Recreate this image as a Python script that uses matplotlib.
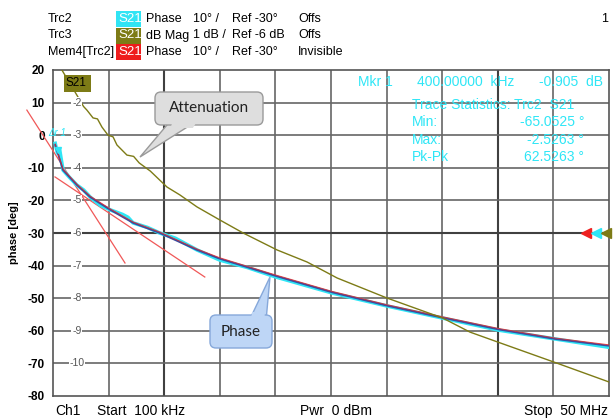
import matplotlib
matplotlib.use("Agg")
import matplotlib.pyplot as plt
from matplotlib.patches import FancyBboxPatch, Polygon, Rectangle
from matplotlib.transforms import IdentityTransform

W, H = 614, 418

# x values are grid divisions across the sweep (0 = 100 kHz, 10 = 50 MHz)
phase_x = [0.04, 0.18, 0.43, 0.67, 1.03, 1.44, 1.92, 2.59, 3.0, 4.01, 5.02, 6.01, 7.01, 8.02, 9.03, 10.0]
phase_deg = [-3.0, -10.7, -15.3, -19.0, -22.9, -26.9, -30.0, -35.2, -37.9, -43.2, -48.2, -52.3, -56.0, -59.6, -62.5, -64.6]

cyan_x = [0.04, 0.08, 0.12, 0.18, 0.3, 0.43, 0.55, 0.67, 0.85, 1.03, 1.25, 1.35, 1.44, 1.7, 1.92,
          2.2, 2.59, 3.0, 3.5, 4.01, 5.02, 6.01, 7.01, 8.02, 9.03, 10.0]
cyan_deg = [-2.5, -5.5, -4.5, -10.7, -13.0, -15.3, -16.8, -19.0, -21.5, -22.9, -24.3, -25.2, -26.9, -28.3, -30.0,
            -31.6, -35.2, -38.3, -40.6, -43.5, -48.4, -52.4, -56.1, -59.8, -62.5, -65.05]

mag_x = [0.16, 0.45, 0.55, 0.61, 0.72, 0.8, 0.88, 0.99, 1.08, 1.15, 1.33, 1.45, 1.55, 1.75, 2.05,
         2.28, 2.59, 3.0, 3.42, 4.03, 4.57, 5.11, 6.0, 7.01, 7.5, 8.04, 9.06, 10.0]
mag_db = [-1.0, -1.83, -2.12, -2.23, -2.47, -2.5, -2.75, -3.0, -3.05, -3.3, -3.61, -3.65, -3.85, -4.1, -4.59,
          -4.83, -5.2, -5.6, -6.0, -6.52, -6.89, -7.38, -7.99, -8.61, -9.04, -9.37, -9.99, -10.57]

tan1_x = [-0.47, 1.295]
tan1_deg = [7.7, -39.2]
tan2_x = [0.036, 2.73]
tan2_deg = [-12.8, -43.5]

deg_ticks = list(range(20, -90, -10))
db_ticks = list(range(-2, -11, -1))

header = [
    ("Trc2", "#30e4f4", "Phase", "10° /", "Ref -30°", "Offs"),
    ("Trc3", "#7d7b16", "dB Mag", "1 dB /", "Ref -6 dB", "Offs"),
    ("Mem4[Trc2]", "#ee1c1c", "Phase", "10° /", "Ref -30°", "Invisible"),
]
stats = [("Min:", "-65.0525 °"), ("Max:", "-2.5263 °"), ("Pk-Pk", "62.5263 °")]

CYAN = "#2ee6f6"
OLIVE = "#7d7b16"
RED = "#ee2020"
BLUE = "#3d4c9e"

plt.rcParams["font.family"] = ["Liberation Sans", "DejaVu Sans"]

fig = plt.figure(figsize=(W / 100, H / 100), dpi=100)
fig.patch.set_facecolor("white")
ax = fig.add_axes([53 / W, 1 - 396 / H, 556 / W, 326 / H])
ax.set_xlim(0, 10)
ax.set_ylim(-80, 20)
ax.set_yticks(deg_ticks)
ax.set_yticklabels([str(t) for t in deg_ticks], fontweight="bold", fontsize=8.5)
ax.set_xticks([])
ax.tick_params(axis="y", length=0, pad=6)
ax.set_ylabel("phase [deg]", fontweight="bold", fontsize=8, labelpad=6)
for s in ax.spines.values():
    s.set_color("#555555")
    s.set_linewidth(1.2)

# grid
for i in range(1, 10):
    dark = i in (2, 8)
    ax.axvline(i, color="#404040" if dark else "#666666", lw=1.5 if dark else 1.2, zorder=1)
for t in deg_ticks[1:-1]:
    dark = t == -30
    ax.axhline(t, color="#404040" if dark else "#666666", lw=1.5 if dark else 1.2, zorder=1)

# tangents
ax.plot(tan1_x, tan1_deg, color="#f05858", lw=0.9, zorder=3, clip_on=False)
ax.plot(tan2_x, tan2_deg, color="#f05858", lw=0.9, zorder=3)

# phase traces
ax.plot(cyan_x, cyan_deg, color=CYAN, lw=2.6, zorder=4)
ax.plot(phase_x, phase_deg, color=BLUE, lw=1.3, zorder=5)
ax.plot(phase_x, [d + 0.3 for d in phase_deg], color=RED, lw=0.7, alpha=0.8, zorder=6)

# magnitude trace on dB scale
ax2 = ax.twinx()
ax2.set_ylim(-11, -1)
ax2.set_yticks([])
for s in ax2.spines.values():
    s.set_visible(False)
ax2.plot(mag_x, mag_db, color=OLIVE, lw=1.0, zorder=4)
for d in db_ticks:
    ax2.text(0.43, d, str(d), ha="center", va="center", fontsize=7.5, color="#555555",
             bbox=dict(facecolor="white", edgecolor="none", pad=0.6), zorder=7)

# marker glyphs
ax.plot([0.09], [-4.5], marker="v", color=CYAN, ms=5, zorder=7)
ax.text(-0.08, 0.6, "Δr 1", color=CYAN, fontsize=7, style="italic", va="center", ha="left",
        zorder=7, clip_on=False)
for xa, c in zip([0.958, 0.976, 0.994], [RED, CYAN, OLIVE]):
    ax.plot([xa], [0.5], marker="<", ms=6.5, color=c, transform=ax.transAxes,
            clip_on=False, zorder=8)

idt = IdentityTransform()


def px_text(x, y, s, **kw):
    fig.text(x / W, 1 - y / H, s, va="center", **kw)


def px_rect(x0, y0, x1, y1, color):
    fig.add_artist(Rectangle((x0, H - y1), x1 - x0, y1 - y0, transform=idt,
                             facecolor=color, edgecolor="none"))


# header lines
for row, (name, col, kind, scale, ref, state) in enumerate(header):
    y = 19 + row * 16.5
    px_text(48, y, name, fontsize=9)
    px_rect(116, y - 8, 141, y + 8, col)
    px_text(118, y, "S21", fontsize=9.5, color="white")
    px_text(146, y, kind, fontsize=9)
    px_text(193, y, scale, fontsize=9)
    px_text(232, y, ref, fontsize=9)
    px_text(298, y, state, fontsize=9)
px_text(608, 19, "1", fontsize=9, ha="right")

# olive S21 label on trace
px_rect(64, 75, 91, 92, OLIVE)
px_text(66, 83.5, "S21", fontsize=8.5, color="black")

# marker readout
px_text(358, 82, "Mkr 1", fontsize=10, color=CYAN)
px_text(417, 82, "400.00000  kHz", fontsize=10, color=CYAN)
px_text(603, 82, "-0.905  dB", fontsize=10, color=CYAN, ha="right")
px_text(412, 105, "Trace Statistics: Trc2  S21", fontsize=10, color=CYAN)
for i, (lab, val) in enumerate(stats):
    y = 122 + i * 17.5
    px_text(412, y, lab, fontsize=10, color=CYAN)
    px_text(584, y, val, fontsize=10, color=CYAN, ha="right")

# footer
px_text(55, 411, "Ch1", fontsize=10)
px_text(97, 411, "Start  100 kHz", fontsize=10)
px_text(300, 411, "Pwr  0 dBm", fontsize=10)
px_text(608, 411, "Stop  50 MHz", fontsize=10, ha="right")


def callout(box, base, tip, text, face, edge):
    x0, y0, x1, y1 = box
    bx0, bx1, by = base
    tx, ty = tip
    inner = 6 if ty > y1 else -6
    ptr = [(bx0, H - (by - inner)), (bx1, H - (by - inner)), (tx, H - ty)]
    fig.add_artist(Polygon(ptr, closed=True, transform=idt, facecolor=face,
                           edgecolor=edge, lw=1.0))
    fig.add_artist(FancyBboxPatch((x0 + 5, H - y1 + 5), x1 - x0 - 10, y1 - y0 - 10,
                                  boxstyle="round,pad=5,rounding_size=6", transform=idt,
                                  facecolor=face, edgecolor=edge, lw=1.0))
    # cover box edge where the pointer joins
    f = 3.0 / abs(ty - by)
    cov = [(bx0 + 1.5, H - (by - inner)), (bx1 - 1.5, H - (by - inner)),
           (bx1 + (tx - bx1) * f - 1.5, H - (by + (ty - by) * f)),
           (bx0 + (tx - bx0) * f + 1.5, H - (by + (ty - by) * f))]
    fig.add_artist(Polygon(cov, closed=True, transform=idt, facecolor=face, edgecolor="none"))
    fig.text((x0 + x1) / 2 / W, 1 - (y0 + y1) / 2 / H, text, ha="center", va="center",
             fontsize=11, family=["Lato", "DejaVu Sans"], color="#222222")


callout((155, 92, 263, 125), (172, 200, 125), (140, 157), "Attenuation", "#dedede", "#9a9a9a")
callout((210, 315, 272, 348), (249, 266, 315), (270, 277), "Phase", "#bed6f6", "#86a8da")

fig.savefig("out.png", dpi=100)
